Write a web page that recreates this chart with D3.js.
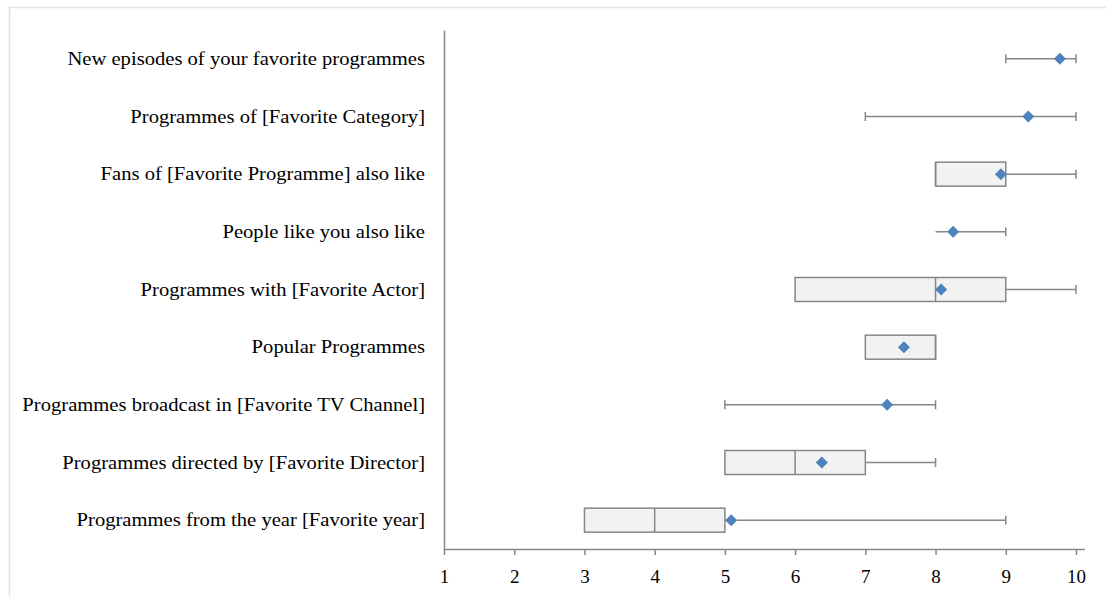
<!DOCTYPE html>
<html><head><meta charset="utf-8">
<script src="https://cdn.jsdelivr.net/npm/d3@7"></script>
<style>body{margin:0;background:#fff;}svg{display:block;}</style>
</head><body>
<svg id="c" width="1106" height="597"></svg>
<script>
const categories = [
  "New episodes of your favorite programmes",
  "Programmes of [Favorite Category]",
  "Fans of [Favorite Programme] also like",
  "People like you also like",
  "Programmes with [Favorite Actor]",
  "Popular Programmes",
  "Programmes broadcast in [Favorite TV Channel]",
  "Programmes directed by [Favorite Director]",
  "Programmes from the year [Favorite year]"
];
const whiskerLow  = [9, 7, 8, 8, 6, 7, 5, 5, 3];
const q1          = [10, 10, 8, 8, 6, 7, 8, 5, 3];
const median      = [10, 10, 8, 8, 8, 8, 8, 6, 4];
const q3          = [10, 10, 9, 8, 9, 8, 8, 7, 5];
const whiskerHigh = [10, 10, 10, 9, 10, 8, 8, 8, 9];
const means       = [9.77, 9.32, 8.93, 8.25, 8.08, 7.55, 7.31, 6.38, 5.09];
const xTicks = [1,2,3,4,5,6,7,8,9,10];

const svg = d3.select("#c");
const W = 1106, H = 597;
const m = {left:444, right:1076, top:30, bottom:549};
const FONT = "'Liberation Serif','Times New Roman',serif";

// faint frame
svg.append("path").attr("d", `M9.5,${H} V7.5 H${W}`).attr("fill","none").attr("stroke","#e3e3e3").attr("stroke-width",1.5);

const x = d3.scaleLinear().domain([1,10]).range([m.left, m.right]);
const y = d3.scaleBand().domain(categories).range([m.top, m.bottom]);

// x axis
const xa = svg.append("g").attr("transform",`translate(0,${m.bottom})`)
  .call(d3.axisBottom(x).tickValues(xTicks).tickSize(6).tickSizeOuter(0).tickFormat(d3.format("d")));
xa.select(".domain").attr("stroke","#868686").attr("stroke-width",1.5).attr("d",`M${m.left},0.5H${m.right+9}`);
xa.selectAll(".tick line").attr("stroke","#868686").attr("stroke-width",1.5);
xa.selectAll(".tick text").attr("font-family",FONT).attr("font-size",19).attr("fill","#000").attr("dy","1.3em");

// y axis
const sx = 1.085;
const ya = svg.append("g").attr("transform",`translate(${m.left},0)`)
  .call(d3.axisLeft(y).tickSize(0).tickPadding(19));
ya.select(".domain").attr("stroke","#868686").attr("stroke-width",1.5);
ya.selectAll(".tick text").attr("font-family",FONT).attr("font-size",19).attr("fill","#000")
  .attr("x", -19/sx).attr("transform", `scale(${sx},1)`);

const g = svg.append("g");
const stroke = "#868686";
categories.forEach((c,i)=>{
  const cy = y(c) + y.bandwidth()/2;
  const bh = 24, cap = 9;
  // whiskers
  g.append("line").attr("x1",x(whiskerLow[i])).attr("x2",x(q1[i])).attr("y1",cy).attr("y2",cy).attr("stroke",stroke).attr("stroke-width",1.5);
  g.append("line").attr("x1",x(q3[i])).attr("x2",x(whiskerHigh[i])).attr("y1",cy).attr("y2",cy).attr("stroke",stroke).attr("stroke-width",1.5);
  if (whiskerLow[i] < q1[i])
    g.append("line").attr("x1",x(whiskerLow[i])).attr("x2",x(whiskerLow[i])).attr("y1",cy-cap/2).attr("y2",cy+cap/2).attr("stroke",stroke).attr("stroke-width",1.5);
  if (whiskerHigh[i] > q3[i] || q3[i]===whiskerHigh[i] && q1[i]===q3[i])
    g.append("line").attr("x1",x(whiskerHigh[i])).attr("x2",x(whiskerHigh[i])).attr("y1",cy-cap/2).attr("y2",cy+cap/2).attr("stroke",stroke).attr("stroke-width",1.5);
  // box
  if (q3[i] > q1[i]) {
    g.append("rect").attr("x",x(q1[i])).attr("y",cy-bh/2).attr("width",x(q3[i])-x(q1[i])).attr("height",bh)
      .attr("fill","#f2f2f2").attr("stroke",stroke).attr("stroke-width",1.5);
    g.append("line").attr("x1",x(median[i])).attr("x2",x(median[i])).attr("y1",cy-bh/2).attr("y2",cy+bh/2).attr("stroke",stroke).attr("stroke-width",1.5);
  }
  // mean
  g.append("path").attr("transform",`translate(${x(means[i])},${cy}) rotate(45)`)
    .attr("d",d3.symbol(d3.symbolSquare, 72)()).attr("fill","#4f81bd");
});
</script>
</body></html>
